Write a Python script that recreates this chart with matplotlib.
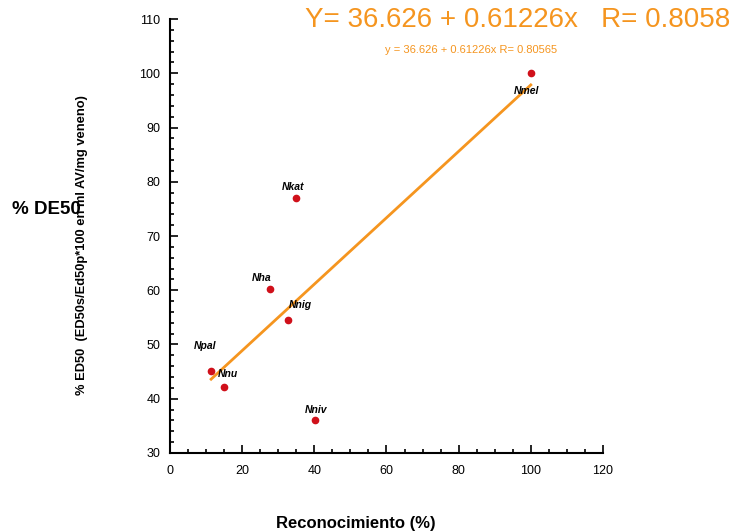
import numpy as np
import matplotlib
matplotlib.use('Agg')
import matplotlib.pyplot as plt
from matplotlib.ticker import MultipleLocator

plt.rcParams['font.family'] = ['Liberation Sans', 'DejaVu Sans']

names = ['Nmel', 'Nkat', 'Nha', 'Nnig', 'Npal', 'Nnu', 'Nniv']
recon = [100.0, 34.8, 27.8, 32.6, 11.4, 15.0, 40.1]
ed50 = [100.0, 77.0, 60.2, 54.5, 45.1, 42.2, 36.1]

intercept = 36.626
slope = 0.61226

# label offsets (points)
offsets = {'Nmel': (-3, -13), 'Nkat': (-2, 8), 'Nha': (-6, 8), 'Nnig': (9, 11),
           'Npal': (-4, 18), 'Nnu': (3, 9), 'Nniv': (1, 7)}

orange = '#f5951f'
red = '#d0101a'

fig = plt.figure(figsize=(7.33, 5.31), dpi=100)
ax = fig.add_axes([0.2319, 0.1469, 0.5907, 0.8173])

xfit = np.array([min(recon), max(recon)])
ax.plot(xfit, intercept + slope * xfit, color=orange, lw=2, zorder=2)
ax.plot(recon, ed50, 'o', color=red, ms=4.5, zorder=3)

for n, x, y in zip(names, recon, ed50):
    ax.annotate(n, (x, y), xytext=offsets[n], textcoords='offset points',
                ha='center', va='center', fontsize=7.5, fontweight='bold',
                fontstyle='italic')

ax.set_xlim(0, 120)
ax.set_ylim(30, 110)
ax.xaxis.set_major_locator(MultipleLocator(20))
ax.xaxis.set_minor_locator(MultipleLocator(5))
ax.yaxis.set_major_locator(MultipleLocator(10))
ax.yaxis.set_minor_locator(MultipleLocator(2))
ax.tick_params(which='major', direction='in', length=6, width=1.2, labelsize=9)
ax.tick_params(axis='x', which='major', pad=9)
ax.tick_params(axis='y', which='major', pad=7)
ax.tick_params(which='minor', direction='in', length=3, width=1.2)
ax.spines['top'].set_visible(False)
ax.spines['right'].set_visible(False)
ax.spines['left'].set_linewidth(1.5)
ax.spines['bottom'].set_linewidth(1.5)

ax.set_ylabel('% ED50  (ED50s/Ed50p*100 en ml AV/mg veneno)', fontsize=9.3, fontweight='bold')
ax.yaxis.set_label_coords(-0.19, 0.48)
ax.set_xlabel('Reconocimiento (%)', fontsize=12, fontweight='bold')
ax.xaxis.set_label_coords(0.43, -0.145)

fig.text(0.017, 0.606, '% DE50', fontsize=13.5, fontweight='bold', va='center', ha='left')
fig.text(0.996, 0.962, 'Y= 36.626 + 0.61226x   R= 0.8058', color=orange,
         fontsize=20, ha='right', va='center')
fig.text(0.643, 0.906, 'y = 36.626 + 0.61226x R= 0.80565', color=orange,
         fontsize=8, ha='center', va='center')

fig.savefig('out.png', dpi=100)
